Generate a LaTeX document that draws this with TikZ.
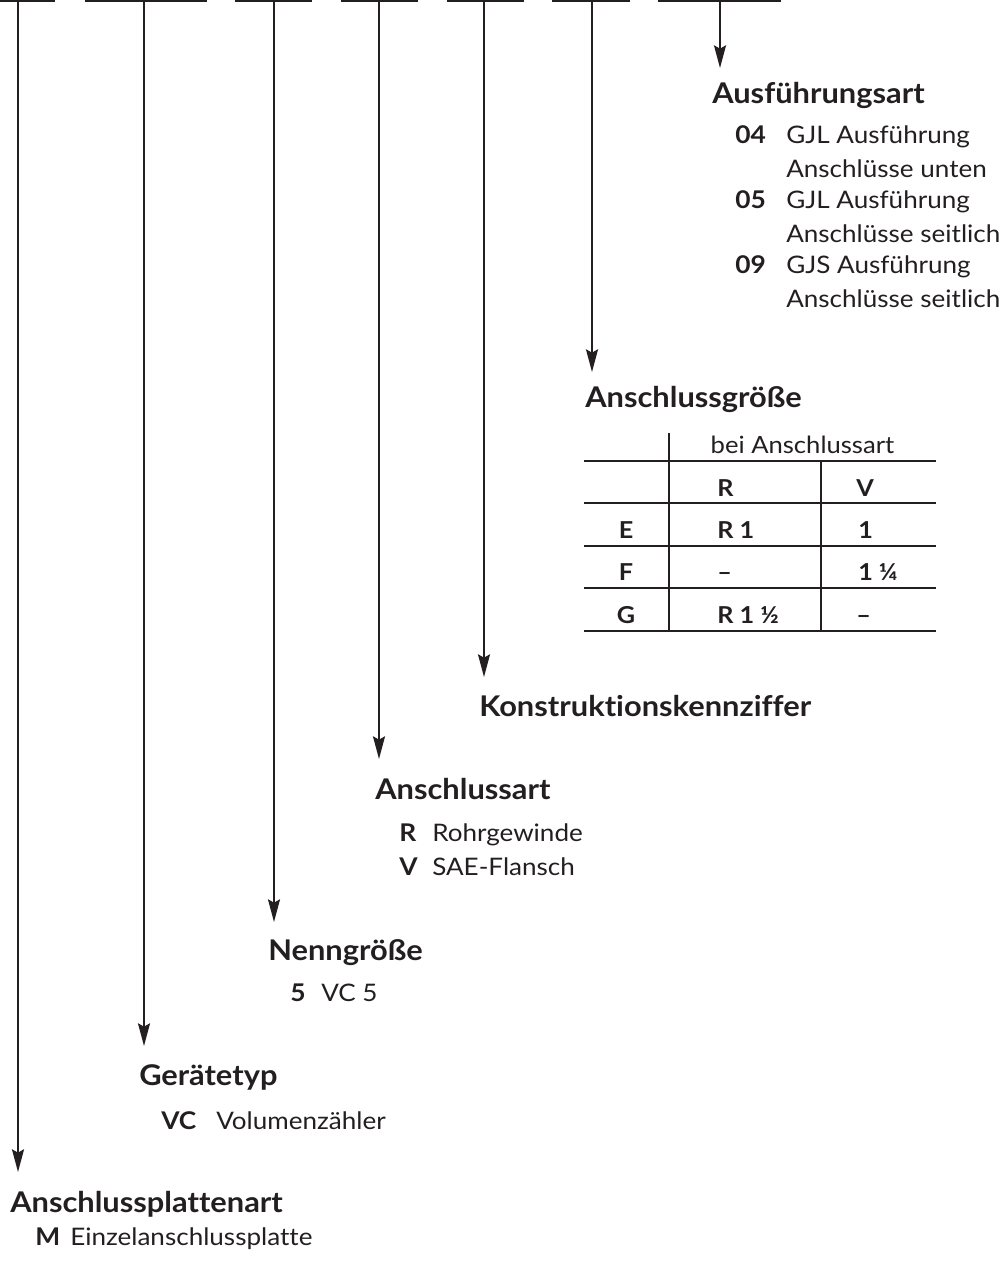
\documentclass[tikz,border=0pt]{standalone}
\usepackage{fontspec}
\setmainfont{Lato}[FakeStretch=1.08, Ligatures=NoCommon]
\usetikzlibrary{arrows.meta}
\definecolor{ink}{HTML}{231F20}
\begin{document}
\begin{tikzpicture}[x=0.75pt,y=-0.75pt,
  keybox/.style={draw=ink, line width=1.4pt, minimum height=30pt, inner sep=0pt, anchor=south},
  conn/.style={draw=ink, line width=1.4pt, -{Stealth[length=17pt, width=9pt, inset=2.5pt]}},
  head/.style={anchor=base west, inner sep=0pt, text=ink, font=\fontsize{21.4}{26}\selectfont\bfseries},
  code/.style={anchor=base west, inner sep=0pt, text=ink, font=\fontsize{18.3}{22}\selectfont\bfseries},
  desc/.style={anchor=base west, inner sep=0pt, text=ink, font=\fontsize{18.1}{22}\selectfont},
  tabb/.style={anchor=base west, inner sep=0pt, text=ink, font=\fontsize{17.5}{20}\selectfont\bfseries},
  tabr/.style={anchor=base, inner sep=0pt, text=ink, font=\fontsize{17.8}{20}\selectfont},
  tline/.style={draw=ink, line width=0.9pt}]
\useasboundingbox (0,0) rectangle (1003,1261);
\clip (0,0) rectangle (1003,1261);

% boxes at the top
\node[keybox, minimum width=54pt]    (k1) at (18,1.5) {};
\node[keybox, minimum width=90pt]    (k2) at (146,1.5) {};
\node[keybox, minimum width=56.25pt] (k3) at (273.5,1.5) {};
\node[keybox, minimum width=56.25pt] (k4) at (379.5,1.5) {};
\node[keybox, minimum width=56.25pt] (k5) at (485.5,1.5) {};
\node[keybox, minimum width=57pt]    (k6) at (591,1.5) {};
\node[keybox, minimum width=90.75pt] (k7) at (719.5,1.5) {};

% arrow tips
\coordinate (t1) at (18,1172);
\coordinate (t2) at (144,1046);
\coordinate (t3) at (274,922);
\coordinate (t4) at (379,759);
\coordinate (t5) at (484,677);
\coordinate (t6) at (592,372);
\coordinate (t7) at (720,68);

\draw[conn] (t1 |- k1.south) -- (t1);
\draw[conn] (t2 |- k2.south) -- (t2);
\draw[conn] (t3 |- k3.south) -- (t3);
\draw[conn] (t4 |- k4.south) -- (t4);
\draw[conn] (t5 |- k5.south) -- (t5);
\draw[conn] (t6 |- k6.south) -- (t6);
\draw[conn] (t7 |- k7.south) -- (t7);

% Ausführungsart
\node[head] (h7) at (712,103) {Ausführungsart};
\node[code] (c7a) at (735,143) {04};
\node[desc] (d7a) at (786,143) {GJL Ausführung};
\node[desc] (d7b) at (786,177) {Anschlüsse unten};
\node[code] (c7c) at (735,208) {05};
\node[desc] (d7c) at (786,208) {GJL Ausführung};
\node[desc] (d7d) at (786,242) {Anschlüsse seitlich};
\node[code] (c7e) at (735,273) {09};
\node[desc] (d7e) at (786,273) {GJS Ausführung};
\node[desc] (d7f) at (786,307) {Anschlüsse seitlich};

% Anschlussgröße
\node[head] (h6) at (585,407) {Anschlussgröße};
\draw[tline] (669,433) -- (669,631);
\draw[tline] (821,461) -- (821,631);
\draw[tline] (584,461) -- (936,461);
\draw[tline] (584,503) -- (936,503);
\draw[tline] (584,546) -- (936,546);
\draw[tline] (584,588) -- (936,588);
\draw[tline] (584,631) -- (936,631);
\node[tabr] (tb0) at (802.5,453) {bei Anschlussart};
\node[tabb] (tr0) at (717,496) {R};
\node[tabb] (tv0) at (856,496) {V};
\node[tabb, anchor=base] (te) at (626,538) {E};
\node[tabb] (tr1) at (717,538) {R 1};
\node[tabb] (tv1) at (858,538) {1};
\node[tabb, anchor=base] (tf) at (626,580) {F};
\node[tabb] (tr2) at (717,580) {–};
\node[tabb] (tv2) at (858,580) {1 ¼};
\node[tabb, anchor=base] (tg) at (626,623) {G};
\node[tabb] (tr3) at (717,623) {R 1 ½};
\node[tabb] (tv3) at (856,623) {–};

% Konstruktionskennziffer
\node[head] (h5) at (479,716) {Konstruktionskennziffer};

% Anschlussart
\node[head] (h4) at (375,799) {Anschlussart};
\node[code] (c4a) at (399,841) {R};
\node[desc] (d4a) at (432,841) {Rohrgewinde};
\node[code] (c4b) at (399,875) {V};
\node[desc] (d4b) at (432,875) {SAE-Flansch};

% Nenngröße
\node[head] (h3) at (268,960) {Nenngröße};
\node[code] (c3) at (290,1001) {5};
\node[desc] (d3) at (321,1001) {VC 5};

% Gerätetyp
\node[head] (h2) at (139,1085) {Gerätetyp};
\node[code] (c2) at (161,1129) {VC};
\node[desc] (d2) at (216,1129) {Volumenzähler};

% Anschlussplattenart
\node[head] (h1) at (10,1212) {Anschlussplattenart};
\node[code] (c1) at (35,1245) {M};
\node[desc] (d1) at (70,1245) {Einzelanschlussplatte};
\end{tikzpicture}
\end{document}
